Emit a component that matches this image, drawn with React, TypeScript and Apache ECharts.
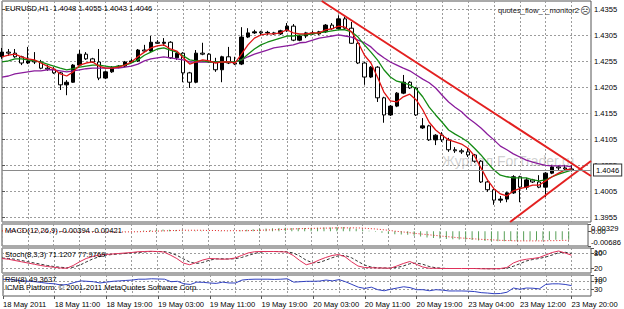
import React, { useEffect, useRef } from 'react';
import * as echarts from 'echarts';

const FONT = '"Liberation Sans", Arial, sans-serif';
const FS = 7.6;

// trading sessions (day label, first hour, last hour)
const daySessions: [string, number, number][] = [
  ['18 May', 3, 23],
  ['19 May', 0, 23],
  ['20 May', 0, 23],
  ['23 May', 1, 23],
];
const categories: string[] = [];
daySessions.forEach(([d, a, b]) => {
  for (let h = a; h <= b; h++) categories.push(`${d} ${String(h).padStart(2, '0')}:00`);
});
const firstLabel = '18 May 2011';

const priceTicks = [1.3955, 1.4005, 1.4055, 1.4105, 1.4155, 1.4205, 1.4255, 1.4305, 1.4355];
const priceMin = 1.39459;
const priceMax = 1.43714;

const opens = [1.4264,1.4273,1.4271,1.4264,1.4252,1.4256,1.4254,1.4242,1.4240,1.4233,
1.4210,1.4215,1.4248,1.4269,1.4260,1.4254,1.4223,1.4235,1.4244,1.4246,
1.4254,1.4256,1.4277,1.4275,1.4292,1.4290,1.4292,1.4262,1.4271,1.4233,
1.4215,1.4271,1.4269,1.4254,1.4239,1.4264,1.4252,1.4250,1.4302,1.4310,
1.4312,1.4310,1.4310,1.4308,1.4314,1.4323,1.4296,1.4304,1.4310,1.4308,
1.4312,1.4325,1.4318,1.4337,1.4319,1.4290,1.4252,1.4225,1.4244,1.4185,
1.4152,1.4169,1.4194,1.4215,1.4204,1.4127,1.4131,1.4104,1.4113,1.4104,
1.4085,1.4083,1.4081,1.4075,1.4063,1.4023,1.4008,1.3988,1.3990,1.4002,
1.4033,1.4013,1.4027,1.4023,1.4013,1.4040,1.4052,1.4050,1.4048];
const closes = [1.4273,1.4271,1.4264,1.4252,1.4256,1.4254,1.4242,1.4240,1.4233,1.4210,
1.4215,1.4248,1.4269,1.4260,1.4254,1.4223,1.4235,1.4244,1.4246,1.4254,
1.4256,1.4277,1.4275,1.4292,1.4290,1.4292,1.4262,1.4271,1.4233,1.4215,
1.4271,1.4269,1.4254,1.4239,1.4264,1.4252,1.4250,1.4302,1.4310,1.4312,
1.4310,1.4311,1.4308,1.4314,1.4323,1.4296,1.4304,1.4310,1.4308,1.4312,
1.4325,1.4318,1.4337,1.4319,1.4290,1.4252,1.4225,1.4244,1.4185,1.4152,
1.4169,1.4194,1.4215,1.4204,1.4152,1.4131,1.4104,1.4113,1.4104,1.4085,
1.4083,1.4081,1.4075,1.4063,1.4023,1.4008,1.3988,1.3990,1.4002,1.4033,
1.4013,1.4027,1.4023,1.4013,1.4040,1.4052,1.4050,1.4048,1.4046];
const lows = [1.4260,1.4266,1.4262,1.4248,1.4250,1.4250,1.4240,1.4237,1.4231,1.4200,
1.4190,1.4214,1.4246,1.4258,1.4252,1.4219,1.4221,1.4233,1.4242,1.4244,
1.4252,1.4254,1.4273,1.4273,1.4289,1.4285,1.4260,1.4258,1.4215,1.4204,
1.4213,1.4267,1.4252,1.4235,1.4215,1.4250,1.4248,1.4248,1.4300,1.4308,
1.4306,1.4306,1.4306,1.4306,1.4312,1.4294,1.4294,1.4300,1.4306,1.4306,
1.4310,1.4316,1.4316,1.4318,1.4289,1.4250,1.4210,1.4223,1.4177,1.4137,
1.4150,1.4167,1.4192,1.4202,1.4150,1.4125,1.4102,1.4094,1.4100,1.4081,
1.4079,1.4077,1.4071,1.4060,1.4021,1.4004,1.3979,1.3983,1.3984,1.4000,
1.3984,1.4008,1.4021,1.4011,1.3994,1.4038,1.4046,1.4044,1.4043];
const highs = [1.4281,1.4279,1.4279,1.4266,1.4283,1.4273,1.4258,1.4248,1.4244,1.4235,
1.4219,1.4250,1.4277,1.4273,1.4262,1.4279,1.4237,1.4246,1.4248,1.4256,
1.4260,1.4279,1.4287,1.4304,1.4296,1.4300,1.4294,1.4273,1.4273,1.4235,
1.4277,1.4291,1.4271,1.4262,1.4266,1.4283,1.4264,1.4321,1.4319,1.4316,
1.4314,1.4314,1.4312,1.4316,1.4329,1.4327,1.4306,1.4312,1.4314,1.4314,
1.4327,1.4329,1.4344,1.4341,1.4331,1.4292,1.4254,1.4246,1.4246,1.4187,
1.4171,1.4196,1.4229,1.4217,1.4206,1.4146,1.4133,1.4115,1.4119,1.4108,
1.4090,1.4087,1.4088,1.4077,1.4065,1.4025,1.4010,1.3996,1.4004,1.4036,
1.4035,1.4031,1.4029,1.4036,1.4042,1.4056,1.4054,1.4056,1.4055];

const redMA = [1.4264,1.4267,1.4269,1.4264,1.4260,1.4258,1.4252,1.4246,1.4241,1.4231,
1.4227,1.4235,1.4248,1.4252,1.4254,1.4246,1.4242,1.4242,1.4244,1.4248,
1.4254,1.4264,1.4273,1.4281,1.4285,1.4287,1.4279,1.4275,1.4262,1.4250,
1.4254,1.4258,1.4256,1.4252,1.4254,1.4254,1.4252,1.4269,1.4287,1.4300,
1.4306,1.4308,1.4308,1.4310,1.4316,1.4310,1.4308,1.4308,1.4310,1.4310,
1.4316,1.4318,1.4323,1.4321,1.4312,1.4292,1.4267,1.4252,1.4225,1.4196,
1.4179,1.4177,1.4187,1.4192,1.4181,1.4162,1.4138,1.4123,1.4113,1.4104,
1.4100,1.4096,1.4088,1.4073,1.4050,1.4027,1.4010,1.4000,1.3996,1.4006,
1.4010,1.4013,1.4017,1.4017,1.4025,1.4033,1.4040,1.4046,1.4048];
const greenMA = [1.4254,1.4256,1.4260,1.4260,1.4258,1.4256,1.4254,1.4250,1.4246,1.4242,
1.4239,1.4241,1.4244,1.4246,1.4248,1.4248,1.4246,1.4244,1.4246,1.4248,
1.4252,1.4258,1.4267,1.4273,1.4279,1.4281,1.4277,1.4273,1.4266,1.4258,
1.4256,1.4256,1.4254,1.4254,1.4254,1.4254,1.4254,1.4258,1.4269,1.4279,
1.4287,1.4292,1.4296,1.4300,1.4304,1.4304,1.4306,1.4306,1.4308,1.4310,
1.4312,1.4314,1.4316,1.4316,1.4312,1.4302,1.4287,1.4273,1.4258,1.4239,
1.4225,1.4217,1.4214,1.4210,1.4202,1.4187,1.4167,1.4152,1.4138,1.4123,
1.4115,1.4108,1.4100,1.4088,1.4075,1.4060,1.4046,1.4036,1.4033,1.4031,
1.4031,1.4031,1.4027,1.4025,1.4027,1.4033,1.4038,1.4042,1.4046];
const purpleMA = [1.4225,1.4227,1.4231,1.4233,1.4235,1.4237,1.4237,1.4239,1.4239,1.4237,
1.4235,1.4237,1.4239,1.4241,1.4242,1.4242,1.4242,1.4242,1.4242,1.4244,
1.4246,1.4250,1.4256,1.4260,1.4262,1.4264,1.4262,1.4260,1.4258,1.4254,
1.4254,1.4254,1.4254,1.4254,1.4254,1.4254,1.4254,1.4258,1.4264,1.4269,
1.4273,1.4277,1.4281,1.4283,1.4285,1.4287,1.4291,1.4292,1.4296,1.4300,
1.4302,1.4304,1.4306,1.4304,1.4302,1.4296,1.4291,1.4283,1.4271,1.4262,
1.4254,1.4248,1.4242,1.4237,1.4229,1.4221,1.4214,1.4204,1.4190,1.4177,
1.4167,1.4158,1.4146,1.4137,1.4127,1.4115,1.4104,1.4092,1.4085,1.4077,
1.4071,1.4065,1.4061,1.4058,1.4055,1.4054,1.4054,1.4054,1.4052];

// trend lines: [bar position, price]
const upperTrend = [[49.4, 1.43714], [91, 1.40345]];
const lowerTrend = [[78.5, 1.39459], [91, 1.40634]];

const macdMain = [0.0002,0.0002,0.0002,0.0001,0.0000,-0.0001,-0.0002,-0.0003,-0.0004,-0.0006,
-0.0007,-0.0006,-0.0004,-0.0003,-0.0003,-0.0004,-0.0004,-0.0004,-0.0003,-0.0002,
-0.0001,0.0001,0.0003,0.0005,0.0006,0.0007,0.0006,0.0005,0.0003,0.0001,
0.0002,0.0002,0.0001,0.0000,0.0001,0.0001,0.0000,0.0003,0.0006,0.0009,
0.0011,0.0012,0.0013,0.0014,0.0016,0.0015,0.0015,0.0015,0.0015,0.0016,
0.0017,0.0017,0.0019,0.0019,0.0016,0.0011,0.0005,0.0002,-0.0003,-0.0008,
-0.0012,-0.0014,-0.0015,-0.0017,-0.0021,-0.0025,-0.0029,-0.0032,-0.0034,-0.0036,
-0.0038,-0.0039,-0.0040,-0.0041,-0.0043,-0.0045,-0.0047,-0.0047,-0.0047,-0.0046,
-0.0045,-0.0044,-0.0043,-0.0043,-0.0042,-0.0041,-0.0040,-0.0040,-0.00394];
const macdSignal = [0.0001,0.0001,0.0002,0.0002,0.0001,0.0001,0.0000,-0.0001,-0.0002,-0.0003,
-0.0003,-0.0004,-0.0004,-0.0005,-0.0005,-0.0005,-0.0004,-0.0004,-0.0004,-0.0004,
-0.0003,-0.0003,-0.0002,-0.0001,0.0000,0.0001,0.0002,0.0003,0.0004,0.0004,
0.0004,0.0004,0.0003,0.0003,0.0002,0.0002,0.0002,0.0002,0.0002,0.0003,
0.0004,0.0005,0.0006,0.0007,0.0009,0.0010,0.0011,0.0012,0.0013,0.0013,
0.0014,0.0014,0.0015,0.0015,0.0015,0.0015,0.0014,0.0012,0.0010,0.0007,
0.0004,0.0000,-0.0003,-0.0006,-0.0010,-0.0013,-0.0016,-0.0019,-0.0022,-0.0025,
-0.0028,-0.0031,-0.0033,-0.0035,-0.0037,-0.0039,-0.0040,-0.0042,-0.0043,-0.0044,
-0.0045,-0.0045,-0.0045,-0.0045,-0.0045,-0.0044,-0.0044,-0.0043,-0.00421];
const macdMax = 0.00329;
const macdMin = -0.00686;

const stochMain = [58,55,50,45,40,35,30,26,23,20,
19,30,45,58,66,72,74,76,78,80,
82,85,86,87,86,84,72,58,40,33,
42,52,58,57,55,56,60,70,80,85,
86,86,86,85,84,70,50,33,40,52,
62,70,74,65,45,28,22,21,20,20,
19,28,38,46,35,24,19,19,18,18,
18,18,18,18,17,17,17,18,22,40,
50,55,58,62,72,82,88,80,71.1207];
const stochSignal = [60,58,55,50,45,40,35,30,26,23,
21,23,31,44,56,65,71,74,76,78,
80,82,84,86,86,86,81,71,57,44,
38,42,51,56,57,56,57,62,70,78,
84,86,86,86,85,80,68,51,41,42,
51,61,69,70,61,46,32,24,21,20,
20,22,28,37,40,35,26,21,19,18,
18,18,18,18,18,17,17,17,19,27,
37,48,54,58,64,72,81,83,77.9769];
const stochLevels = [80, 20];

const rsi = [80,78,76,72,70,68,64,60,58,52,
55,64,72,70,68,62,66,70,72,74,
76,80,80,82,81,80,68,70,58,55,
66,65,62,60,66,62,62,76,79,80,
80,80,79,80,82,66,68,70,70,71,
76,72,78,68,55,42,36,42,30,25,
32,38,44,40,30,30,25,30,28,24,
24,24,23,21,16,14,11,12,18,38,
32,38,37,34,55,58,58,55,49.3637];
const rsiLevels = [70, 30];

export default function App() {
  const ref = useRef<HTMLDivElement>(null);
  useEffect(() => {
    if (!ref.current) return;
    const chart = echarts.init(ref.current, undefined, { renderer: 'svg' });
    const last = opens.length - 1;
    const candles = opens.map((o, i) => [o, closes[i], lows[i], highs[i]]);
    const gridLine = { color: '#9c9c9c', type: [2, 2] as any, width: 1 };
    const gridBase = { show: true, left: 2, width: 589, borderColor: '#555', borderWidth: 1, backgroundColor: '#fff' };
    const labelStyle = { color: '#000', fontSize: FS, fontFamily: FONT };
    const catAxis = (gi: number, extra: any = {}) => ({
      type: 'category', gridIndex: gi, data: categories, boundaryGap: false,
      axisLine: { show: false }, axisTick: { show: false }, axisLabel: { show: false },
      splitLine: { show: true, interval: 3, lineStyle: gridLine },
      ...extra,
    });
    const labelInterval = (i: number) => i % 8 === 0 && i <= last;
    const lineS = (xi: number, yi: number, data: any[], color: string, extra: any = {}) => ({
      type: 'line', xAxisIndex: xi, yAxisIndex: yi, data, showSymbol: false, symbol: 'none',
      lineStyle: { color, width: 1, ...(extra.lineStyle || {}) }, z: extra.z || 3, silent: true,
      ...(extra.markLine ? { markLine: extra.markLine } : {}),
    });
    const priceLine = {
      silent: true, symbol: ['none', 'none'], animation: false, precision: 5, z: 10,
      data: [{ yAxis: closes[last] }],
      lineStyle: { color: '#8a8a8a', width: 1, type: 'solid' },
      label: {
        show: true, position: 'end', distance: 3, formatter: closes[last].toFixed(4), ...labelStyle,
        backgroundColor: '#fff', borderColor: '#333', borderWidth: 1, padding: [2, 2, 1, 2],
      },
    };
    // value axis on the right of a panel; labels at customValues
    const valAxis = (gi: number, min: number, max: number, values: number[], fmt: (v: number) => string,
      vAlign: string, split: boolean) => ({
      type: 'value', gridIndex: gi, position: 'right', min, max,
      axisLine: { show: false },
      axisTick: { show: true, customValues: values, length: 3, lineStyle: { color: '#555' } },
      axisLabel: {
        customValues: values, formatter: fmt, margin: 3, verticalAlign: vAlign,
        showMinLabel: true, showMaxLabel: true, hideOverlap: false, ...labelStyle,
      },
      splitLine: { show: split, lineStyle: gridLine },
    });
    const option: any = {
      animation: false,
      backgroundColor: '#fff',
      grid: [
        { ...gridBase, top: 1, height: 221 },
        { ...gridBase, top: 224, height: 22 },
        { ...gridBase, top: 248, height: 25 },
        { ...gridBase, top: 275, height: 21 },
      ],
      xAxis: [
        catAxis(0),
        catAxis(1),
        catAxis(2),
        catAxis(3, {
          axisTick: { show: true, interval: labelInterval, length: 3, lineStyle: { color: '#555' } },
          axisLabel: {
            show: true, interval: labelInterval, align: 'left', margin: 4, ...labelStyle,
            formatter: (v: string, i: number) => (i === 0 ? firstLabel : v),
          },
        }),
        { type: 'value', gridIndex: 0, min: 0, max: categories.length - 1, show: false },
      ],
      yAxis: [
        valAxis(0, priceMin, priceMax, priceTicks, (v) => v.toFixed(4), 'middle', true),
        valAxis(1, macdMin, macdMax, [0], () => '0.00', 'middle', false),
        valAxis(2, 0, 100, stochLevels, (v) => String(v), 'middle', true),
        valAxis(3, 0, 100, rsiLevels, (v) => String(v), 'middle', true),
        // panel maximum / minimum labels, kept inside their panels
        valAxis(1, macdMin, macdMax, [macdMax], (v) => v.toFixed(5), 'top', false),
        valAxis(1, macdMin, macdMax, [macdMin], (v) => v.toFixed(5), 'bottom', false),
        valAxis(2, 0, 100, [100], (v) => String(v), 'top', false),
        valAxis(3, 0, 100, [100], (v) => String(v), 'top', false),
      ],
      series: [
        {
          type: 'candlestick', xAxisIndex: 0, yAxisIndex: 0, data: candles, barWidth: 4, clip: true, silent: true,
          itemStyle: { color: '#000', color0: '#fff', borderColor: '#000', borderColor0: '#000', borderWidth: 1 },
          z: 2,
        },
        lineS(0, 0, purpleMA, '#8a1c9c', { lineStyle: { width: 1.3 }, markLine: priceLine }),
        lineS(0, 0, greenMA, '#138a13', { lineStyle: { width: 1.3 } }),
        lineS(0, 0, redMA, '#e01414', { lineStyle: { width: 1.3 } }),
        lineS(4, 0, upperTrend, '#e32020', { lineStyle: { width: 2 }, z: 4 }),
        lineS(4, 0, lowerTrend, '#e32020', { lineStyle: { width: 2 }, z: 4 }),
        {
          type: 'bar', xAxisIndex: 1, yAxisIndex: 1, data: macdMain, barWidth: 1, silent: true,
          itemStyle: { color: '#58a058' },
        },
        lineS(1, 1, macdSignal, '#e02020', { lineStyle: { type: [1, 2] } }),
        lineS(2, 2, stochSignal, '#333333', { lineStyle: { type: [3, 2] } }),
        lineS(2, 2, stochMain, '#e0305a'),
        lineS(3, 3, rsi, '#3040c0'),
      ],
      graphic: [
        {
          type: 'text', x: 442, y: 161, z: 1, silent: true,
          style: { text: 'Журнал ForTrader.ru', fill: 'rgba(150,150,150,0.45)', font: `14px ${FONT}`, verticalAlign: 'middle' },
        },
        {
          type: 'text', x: 5, y: 8.5, z: 10, silent: true,
          style: {
            text: `EURUSD,H1  ${opens[last].toFixed(4)} ${highs[last].toFixed(4)} ${lows[last].toFixed(4)} ${closes[last].toFixed(4)}`,
            fill: '#000', font: `${FS}px ${FONT}`, verticalAlign: 'middle',
          },
        },
        {
          type: 'text', x: 579, y: 10, z: 10, silent: true,
          style: { text: 'quotes_flow_-_monitor2', fill: '#222', font: `${FS}px ${FONT}`, align: 'right', verticalAlign: 'middle' },
        },
        {
          type: 'text', x: 580, y: 10, z: 10, silent: true,
          style: { text: '☹', fill: '#444', font: '10px "DejaVu Sans"', verticalAlign: 'middle' },
        },
        {
          type: 'text', x: 5, y: 230, z: 10, silent: true,
          style: { text: `MACD(12,26,9) ${macdMain[last].toFixed(5)} ${macdSignal[last].toFixed(5)}`, fill: '#000', font: `${FS}px ${FONT}`, verticalAlign: 'middle' },
        },
        {
          type: 'text', x: 5, y: 254, z: 10, silent: true,
          style: { text: `Stoch(8,3,3) ${stochMain[last].toFixed(4)} ${stochSignal[last].toFixed(4)}`, fill: '#000', font: `${FS}px ${FONT}`, verticalAlign: 'middle' },
        },
        {
          type: 'text', x: 5, y: 279, z: 10, silent: true,
          style: { text: `RSI(8) ${rsi[last].toFixed(4)}`, fill: '#000', font: `${FS}px ${FONT}`, verticalAlign: 'middle' },
        },
        {
          type: 'text', x: 5, y: 287.5, z: 10, silent: true,
          style: { text: 'ICMB Platform: © 2001-2011 MetaQuotes Software Corp.', fill: '#000', font: `${FS}px ${FONT}`, verticalAlign: 'middle' },
        },
      ],
    };
    chart.setOption(option);
    return () => chart.dispose();
  }, []);
  return (
    <div
      ref={ref}
      style={{ position: 'fixed', left: 0, top: 0, width: 624, height: 309, background: '#fff' }}
    />
  );
}
